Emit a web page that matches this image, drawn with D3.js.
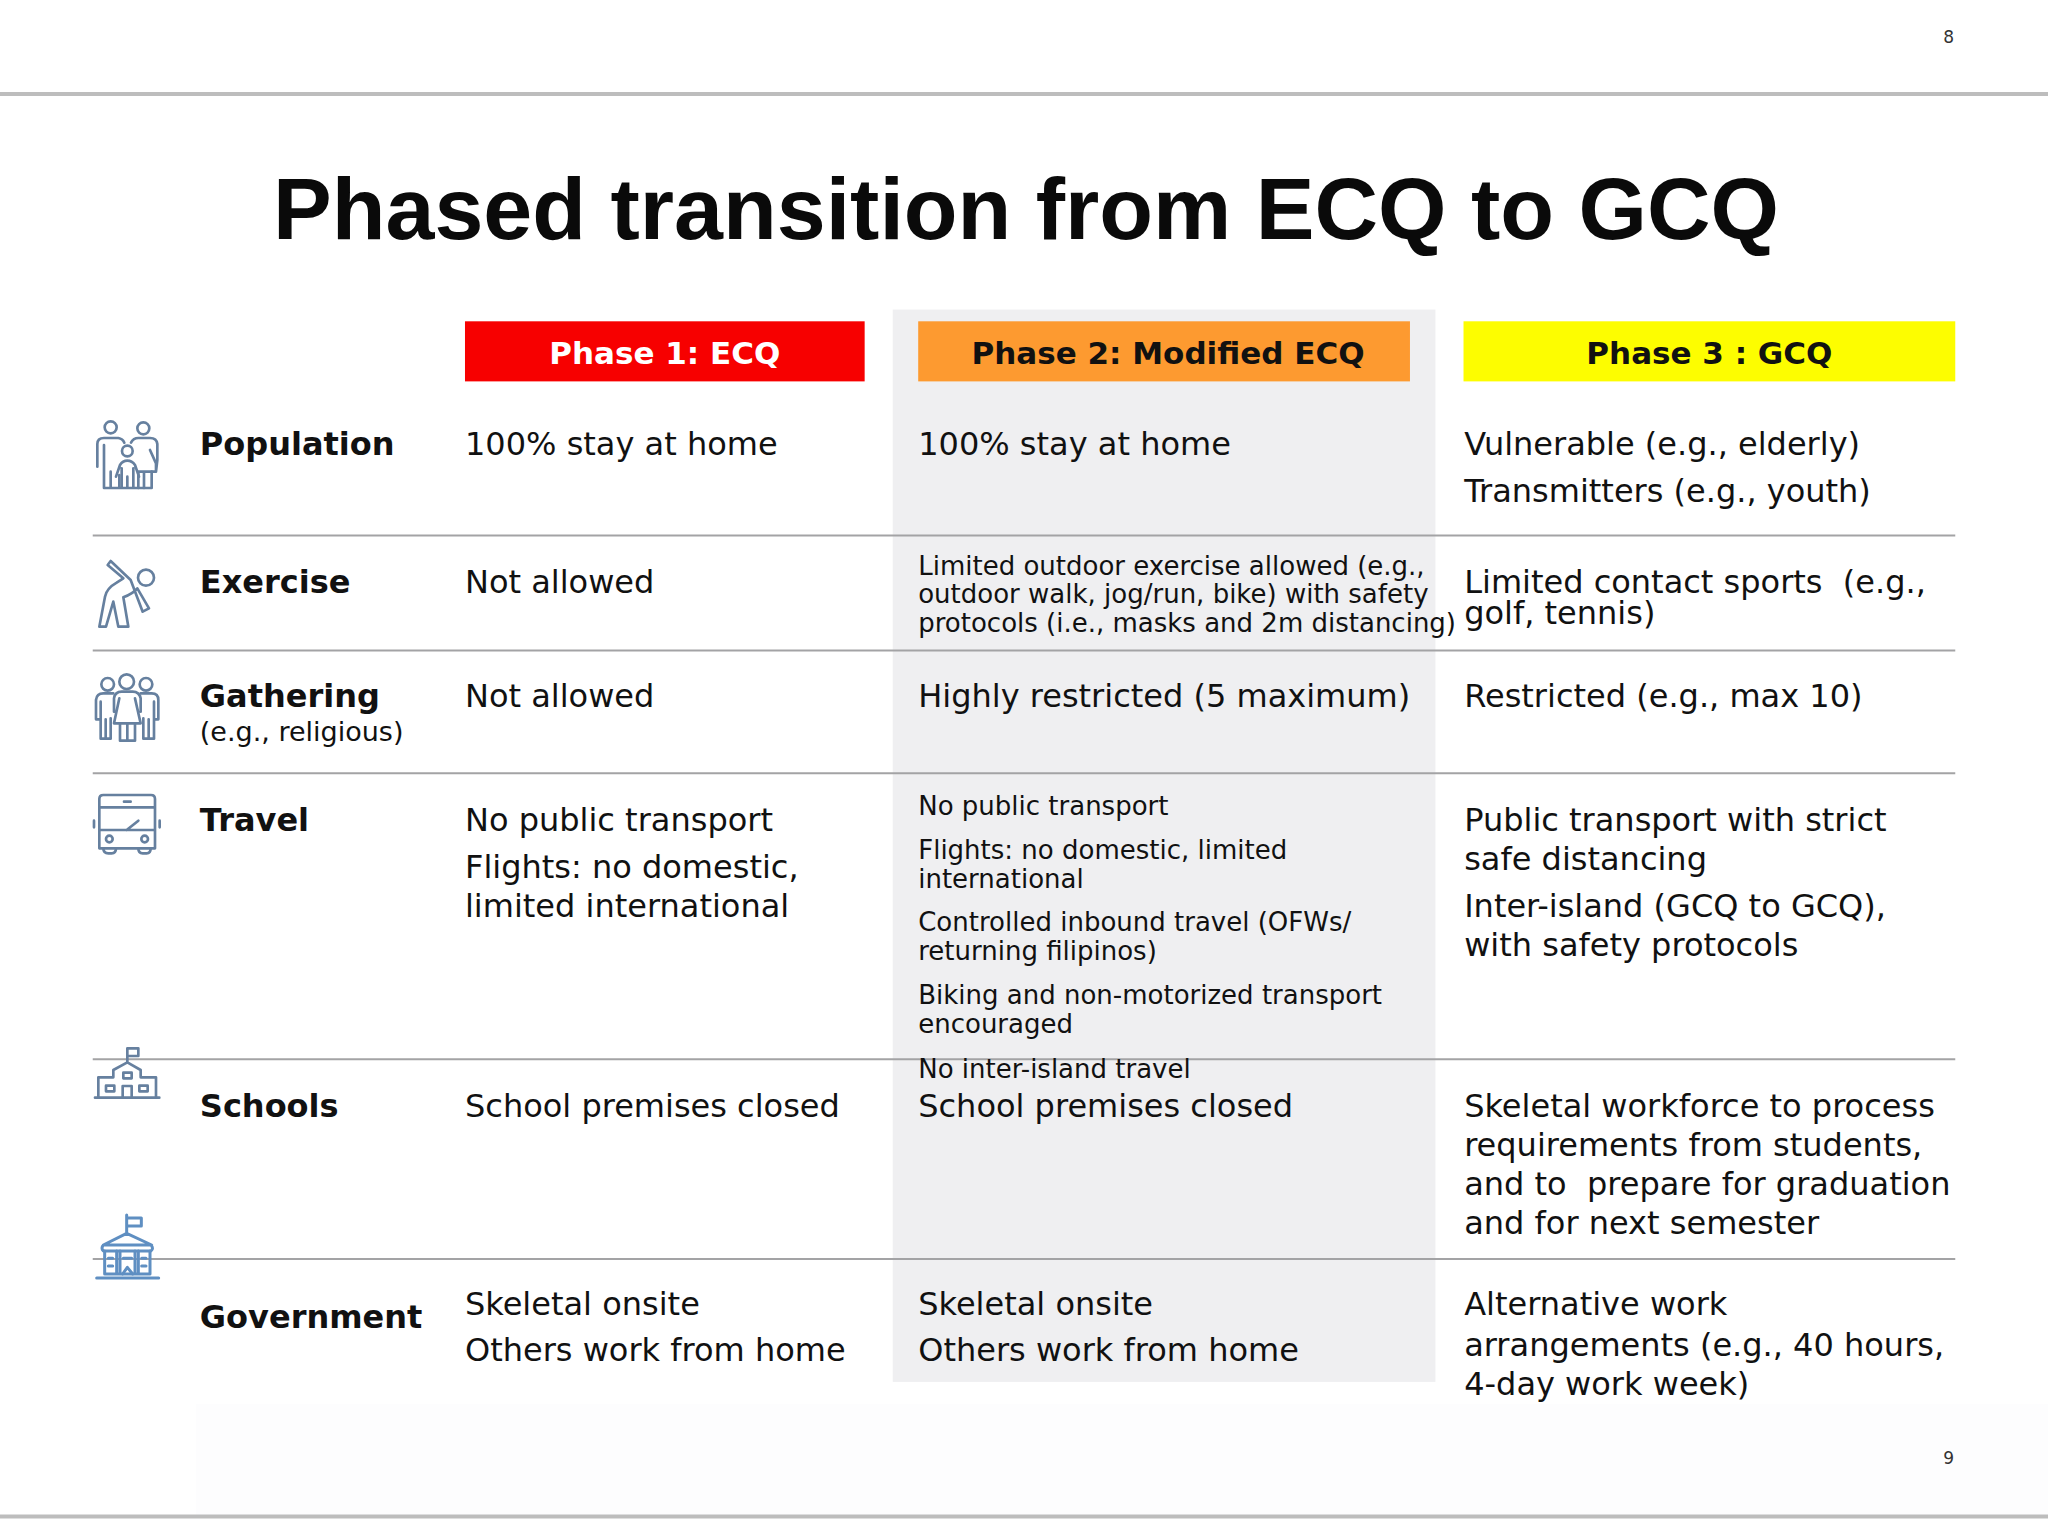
<!DOCTYPE html>
<html><head><meta charset="utf-8">
<script src="https://cdn.jsdelivr.net/npm/d3@7"></script>
<style>html,body{margin:0;padding:0;background:#fff}svg{display:block}</style>
</head><body><div id="c"></div>
<script>
const title = "Phased transition from ECQ to GCQ";
const phases = ["Phase 1: ECQ","Phase 2: Modified ECQ","Phase 3 : GCQ"];
const phaseColors = ["#f70000","#fd9a30","#fdfd00"];
const phaseText = ["#fff","#111","#111"];
const rowNames = ["Population","Exercise","Gathering","Travel","Schools","Government"];
const rowSub = ["","","(e.g., religious)","","",""];
const col1 = [["100% stay at home"],["Not allowed"],["Not allowed"],["No public transport","Flights: no domestic,","limited international"],["School premises closed"],["Skeletal onsite","Others work from home"]];
const col2 = [["100% stay at home"],["Limited outdoor exercise allowed (e.g.,","outdoor walk, jog/run, bike) with safety","protocols (i.e., masks and 2m distancing)"],["Highly restricted (5 maximum)"],["No public transport","Flights: no domestic, limited","international","Controlled inbound travel (OFWs/","returning filipinos)","Biking and non-motorized transport","encouraged","No inter-island travel"],["School premises closed"],["Skeletal onsite","Others work from home"]];
const col3 = [["Vulnerable (e.g., elderly)","Transmitters (e.g., youth)"],["Limited contact sports  (e.g.,","golf, tennis)"],["Restricted (e.g., max 10)"],["Public transport with strict","safe distancing","Inter-island (GCQ to GCQ),","with safety protocols"],["Skeletal workforce to process","requirements from students,","and to  prepare for graduation","and for next semester"],["Alternative work","arrangements (e.g., 40 hours,","4-day work week)"]];
// layout (baselines, in reference-overview units)
const labelBase = [348,454,541,636,855,1017];
const subBase = [0,0,567,0,0,0];
const col1Base = [[348],[454],[541],[636,672,702],[855],[1007,1042]];
const col2Base = [[348],[440,462,484],[541],[624,658,680,713,735,769,791,825],[855],[1007,1042]];
const col3Base = [[348,384],[454,478],[541],[636,666,702,732],[855,885,915,945],[1007,1038,1068]];
const col2Small = [false,true,false,true,false,false];
const ruleY = [410,498,592,811,964];

const W=2048,H=1536;
const u = d3.scaleLinear().domain([0,1568]).range([0,2048]);
const svg = d3.select("#c").append("svg").attr("width",W).attr("height",H).attr("viewBox",`0 0 ${W} ${H}`);
const SANS="'DejaVu Sans',Verdana,sans-serif";
svg.append("rect").attr("width",W).attr("height",H).attr("fill","#fff");
svg.append("rect").attr("x",u(150)).attr("y",u(1075)).attr("width",u(1418)).attr("height",u(86)).attr("fill","#fdfdfe");
// top/bottom rules
svg.selectAll("line.edge").data([72,1161]).join("line").attr("class","edge")
  .attr("x1",0).attr("x2",W).attr("y1",d=>u(d)).attr("y2",d=>u(d)).attr("stroke","#bdbdbd").attr("stroke-width",4);
svg.selectAll("text.pg").data([["8",33],["9",1121]]).join("text").attr("class","pg")
  .attr("x",u(1492)).attr("y",d=>u(d[1])).attr("text-anchor","middle").attr("font-family",SANS).attr("font-size",17).attr("fill","#333").text(d=>d[0]);
// title
svg.append("text").attr("x",u(785.5)).attr("y",u(183)).attr("text-anchor","middle")
  .attr("font-family","'Liberation Sans',Arial,sans-serif").attr("font-weight",700).attr("font-size",88).attr("fill","#0a0a0a").text(title);
// grey column
svg.append("rect").attr("x",u(683.5)).attr("y",u(237)).attr("width",u(415.5)).attr("height",u(821)).attr("fill","#efeff1");
// rules
svg.selectAll("line.rule").data(ruleY).join("line").attr("class","rule")
  .attr("x1",u(71)).attr("x2",u(1497)).attr("y1",d=>u(d)).attr("y2",d=>u(d)).attr("stroke","#a3a3a5").attr("stroke-width",2);
// headers
const hx=[356,703,1120.5], hw=[306,376.5,376.5];
const hg=svg.selectAll("g.h").data(phases).join("g").attr("class","h");
hg.append("rect").attr("x",(d,i)=>u(hx[i])).attr("y",u(246)).attr("width",(d,i)=>u(hw[i])).attr("height",u(46)).attr("fill",(d,i)=>phaseColors[i]);
hg.append("text").attr("x",(d,i)=>u(hx[i]+hw[i]/2+ (i==1?3:0))).attr("y",u(279)).attr("text-anchor","middle").attr("font-family",SANS).attr("font-weight",700).attr("font-size",31).attr("fill",(d,i)=>phaseText[i]).text(d=>d);
// row labels
const tg=svg.append("g").attr("font-family",SANS).attr("fill","#111");
tg.selectAll("text.lab").data(rowNames).join("text").attr("class","lab").attr("x",u(153)).attr("y",(d,i)=>u(labelBase[i])).attr("font-weight",700).attr("font-size",32).text(d=>d);
tg.selectAll("text.sub").data(rowSub.filter(d=>d)).join("text").attr("class","sub").attr("x",u(153)).attr("y",u(subBase[2]-0)).attr("font-size",27).text(d=>d);
function col(data,base,x,smallFlags){
  data.forEach((lines,r)=>{
    tg.append("g").selectAll("text").data(lines).join("text").attr("x",u(x)).attr("y",(d,i)=>u(base[r][i]))
      .attr("font-size",smallFlags&&smallFlags[r]?26:32).attr("xml:space","preserve").style("white-space","pre").text(d=>d);
  });
}
col(col1,col1Base,356);col(col2,col2Base,703,col2Small);col(col3,col3Base,1121);

// icons, drawn in zoom-crop units
const C="#66809f";
function icon(ox,oy,paths,circles,color,sw){
  const g=svg.append("g").attr("transform",`translate(${ox},${oy}) scale(${1/3})`).attr("fill","none").attr("stroke",color||C).attr("stroke-width",sw||8).attr("stroke-linejoin","round").attr("stroke-linecap","round");
  paths.forEach(p=>g.append("path").attr("d",p));
  circles.forEach(c=>g.append("circle").attr("cx",c[0]).attr("cy",c[1]).attr("r",c[2]));
}
icon(70,400,[
 "M82,200 V132 Q82,114 102,114 H145 Q158,116 163,128 M102,135 V200 M102,135 V264 H245 V215 M122,215 V264 M148,225 V264",
 "M183,128 Q190,114 205,114 H240 Q260,114 262,132 V180 L258,215 M240,150 L258,190 V215 H205 V264 M222,215 V264",
 "M138,230 L150,195 Q158,182 172,182 Q186,182 195,195 L207,230 M155,205 V262 M190,205 V262 M172,230 V262"
],[[122,82,18],[220,85,18],[172,153,16]]);
icon(70,400,[
 "M122,483 L182,540 L218,635 L237,625 L202,565 Q190,580 160,592 L175,680 H145 L130,605 L108,680 H88 L105,590 Q110,565 140,548 L160,535 L113,495 Z"
],[[228,533,24]]);
icon(70,400,[
 "M148,895 L132,970 H212 L195,895 M132,935 V895 Q135,875 155,875 H188 Q208,875 212,895 V935 M150,970 V1022 H195 V970 M172,970 V1022",
 "M130,880 H100 Q80,880 78,900 V958 H92 V905 M92,958 V1016 H122 V955 M107,958 V1016",
 "M212,880 H245 Q265,880 265,900 V958 H252 V905 M252,958 V1016 H220 V955 M236,958 V1016"
],[[113,853,19],[170,845,22],[228,853,19]]);
icon(70,780,[
 "M100,45 H243 Q255,45 255,57 V205 H88 V57 Q88,45 100,45 Z M88,82 H255 M88,150 H255 M162,65 H182 M170,150 L205,122",
 "M100,205 Q100,220 115,220 H125 Q138,220 138,205 M205,205 Q205,220 218,220 H230 Q242,220 242,205 M72,122 V142 M269,122 V142"
],[[118,177,10],[224,177,10]]);
icon(70,780,[
 "M172,845 V805 H205 V828 H172 M130,892 V870 L172,847 L212,870 V892 M85,950 V892 H130 M212,892 H258 V950 M75,953 H268",
 "M160,878 H185 V895 H160 Z M108,917 H133 V934 H108 Z M208,917 H233 V934 H208 Z M158,950 V918 H185 V950"
],[]);
const G="#5f8fc2";
icon(70,780,[
 "M170,1360 V1305 M170,1314 H214 V1338 H170 M100,1395 L170,1360 L245,1395 M100,1395 H243 Q252,1405 243,1413 H100 Q92,1405 100,1395 Z",
 "M104,1413 V1482 H240 V1413 M140,1413 V1482 M150,1413 V1482 M195,1413 V1482 M205,1413 V1482 M80,1494 H266",
 "M115,1435 H128 M115,1458 H128 M160,1435 H185 M215,1435 H228 M215,1458 H228 M158,1482 L172,1462 L188,1482"
],[],G,9);
</script></body></html>
